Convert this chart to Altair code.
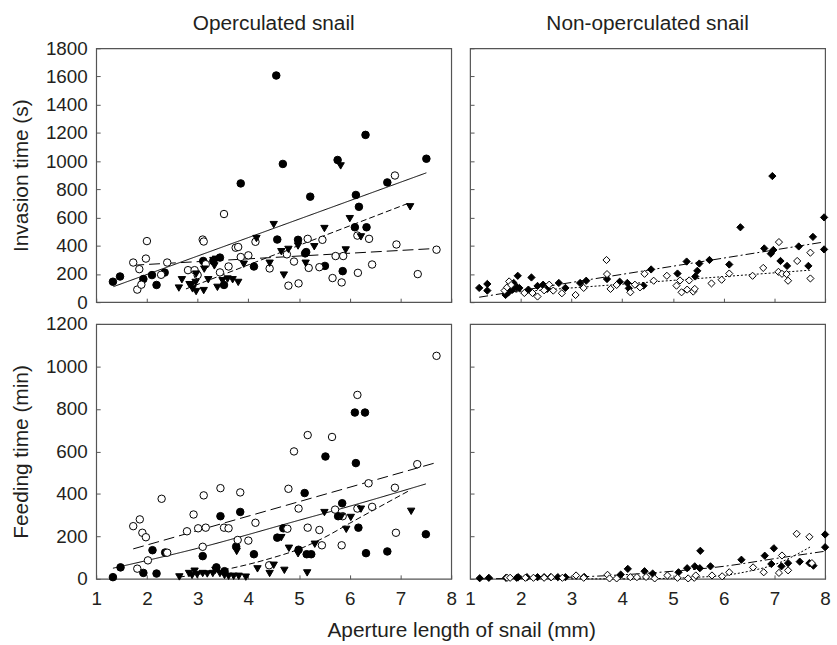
import altair as alt
import pandas as pd

FONT = "Liberation Sans"
TXT = "#231f20"
FRAME = "#555555"

# ---------------- Invasion time, operculated snail ----------------
inv_op_fc_x = [1.33, 1.47, 1.93, 2.10, 2.19, 2.35, 3.11, 3.31, 3.44, 3.52, 3.85, 4.11, 4.55, 4.57,
               4.68, 4.98, 5.12, 5.14, 5.22, 5.51, 5.76, 5.86, 6.10, 6.12, 6.18, 6.31, 6.33, 6.74, 7.51]
inv_op_fc_y = [145, 182, 164, 192, 122, 210, 292, 292, 316, 122, 842, 253, 1607, 444,
               980, 442, 346, 355, 748, 257, 1008, 220, 531, 760, 676, 1186, 531, 849, 1017]

inv_op_oc_x = [1.73, 1.81, 1.85, 1.89, 1.98, 2.00, 2.28, 2.40, 2.81, 2.94, 3.00, 3.10, 3.12, 3.16,
               3.44, 3.52, 3.61, 3.75, 3.80, 3.85, 4.00, 4.14, 4.42, 4.76, 4.79, 4.90, 4.99, 5.17,
               5.19, 5.40, 5.46, 5.66, 5.72, 5.84, 5.87, 6.15, 6.16, 6.38, 6.44, 6.89, 6.92, 7.34, 7.71]
inv_op_oc_y = [281, 89, 234, 124, 309, 433, 194, 281, 227, 227, 192, 444, 430, 269,
               211, 625, 253, 386, 391, 320, 332, 428, 239, 339, 117, 288, 133, 449,
               243, 248, 442, 171, 327, 140, 327, 472, 208, 449, 267, 898, 409, 199, 372]

inv_op_tr_x = [2.63, 2.69, 2.84, 2.87, 2.90, 2.96, 2.97, 2.97, 3.12, 3.13, 3.21, 3.31, 3.33, 3.36,
               3.39, 3.49, 3.59, 3.69, 3.80, 3.91, 4.16, 4.42, 4.50, 4.65, 4.70, 4.79, 4.98, 5.13,
               5.30, 5.50, 5.82, 5.92, 6.00, 6.22, 7.19]
inv_op_tr_y = [100, 159, 124, 117, 94, 140, 75, 199, 82, 234, 159, 295, 257, 304,
               105, 152, 164, 159, 140, 269, 451, 276, 550, 358, 192, 374, 398, 276,
               393, 522, 966, 370, 592, 463, 676]

# fitted lines
inv_op_fit_fc_x = [1.34, 7.51]
inv_op_fit_fc_y = [110, 917]
inv_op_fit_tr_x = [2.77, 7.19]
inv_op_fit_tr_y = [94, 706]
inv_op_fit_oc_x = [1.73, 7.71]
inv_op_fit_oc_y = [262, 381]

# ---------------- Invasion time, non-operculated snail ----------------
inv_no_fd_x = [1.18, 1.34, 1.34, 1.70, 1.76, 1.83, 1.86, 1.92, 1.94, 1.97, 2.15, 2.21, 2.33, 2.44,
               2.52, 2.75, 2.88, 3.17, 3.29, 3.70, 3.95, 4.10, 4.13, 4.42, 4.57, 5.09, 5.27, 5.44,
               5.48, 5.52, 5.72, 6.11, 6.33, 6.80, 6.93, 6.98, 6.96, 7.12, 7.25, 7.48, 7.67, 7.76,
               7.98, 7.98]
inv_no_fd_y = [101, 129, 82, 51, 70, 87, 136, 105, 187, 101, 89, 175, 115, 124,
               94, 136, 101, 136, 152, 164, 145, 136, 98, 117, 232, 203, 288, 182,
               222, 274, 299, 267, 531, 381, 344, 370, 894, 292, 257, 395, 257, 463,
               601, 374]

inv_no_od_x = [1.68, 1.73, 1.77, 1.81, 2.07, 2.23, 2.33, 2.46, 2.56, 2.64, 2.81, 3.08, 3.24, 3.69,
               3.70, 3.77, 3.89, 4.16, 4.25, 4.35, 4.44, 4.62, 4.88, 5.07, 5.14, 5.17, 5.28, 5.32,
               5.40, 5.43, 5.76, 5.96, 6.11, 6.57, 6.78, 7.09, 7.08, 7.15, 7.24, 7.27, 7.45, 7.71, 7.71]
inv_no_od_y = [82, 105, 147, 122, 65, 65, 40, 84, 124, 82, 63, 51, 101, 299,
               199, 94, 122, 70, 124, 105, 201, 152, 187, 117, 154, 70, 89, 154,
               75, 94, 133, 159, 203, 187, 243, 426, 215, 201, 199, 152, 292, 351, 168]

inv_no_fit_fd_x = [1.18, 7.97]
inv_no_fit_fd_y = [35, 426]
inv_no_fit_od_x = [1.66, 7.71]
inv_no_fit_od_y = [65, 227]

# ---------------- Feeding time, operculated snail ----------------
fed_op_fc_x = [1.33, 1.48, 1.93, 2.11, 2.19, 2.36, 3.10, 3.37, 3.45, 3.53, 3.76, 3.84, 4.11, 4.57,
               4.69, 4.99, 5.11, 5.15, 5.24, 5.52, 5.77, 5.85, 6.10, 6.30, 6.12, 6.17, 6.32, 6.74, 7.50]
fed_op_fc_y = [8, 54, 28, 135, 25, 124, 107, 54, 295, 36, 152, 315, 116, 194,
               238, 137, 404, 116, 116, 576, 295, 356, 783, 783, 545, 241, 121, 129, 210]

fed_op_oc_x = [1.73, 1.86, 1.91, 1.98, 1.81, 2.02, 2.29, 2.40, 2.79, 2.92, 3.01, 3.10, 3.12, 3.16,
               3.45, 3.52, 3.61, 3.79, 3.84, 4.00, 4.14, 4.41, 4.77, 4.79, 4.90, 4.99, 5.17, 5.17,
               5.40, 5.45, 5.65, 5.71, 5.84, 5.86, 6.15, 6.15, 6.37, 6.44, 6.89, 6.91, 7.33, 7.71]
fed_op_oc_y = [248, 280, 217, 196, 48, 87, 377, 123, 224, 303, 238, 151, 393, 241,
               427, 241, 238, 183, 407, 180, 264, 64, 236, 424, 600, 331, 677, 241,
               230, 158, 668, 326, 158, 295, 866, 331, 450, 339, 429, 217, 540, 1050]

fed_op_tr_x = [2.64, 2.83, 2.89, 2.94, 2.99, 3.10, 3.19, 3.30, 3.35, 3.44, 3.53, 3.61, 3.71, 3.81,
               3.95, 3.77, 4.18, 4.42, 4.50, 4.71, 4.65, 4.80, 4.98, 5.16, 5.31, 5.50, 5.83, 5.93,
               6.02, 6.22, 7.21]
fed_op_tr_y = [9, 25, 16, 36, 20, 25, 23, 25, 40, 25, 16, 12, 12, 12,
               8, 129, 47, 25, 64, 40, 194, 144, 118, 28, 163, 312, 292, 233,
               289, 328, 318]

fed_op_fit_fc_x = [1.33, 3.0, 5.0, 6.0, 7.5]
fed_op_fit_fc_y = [50, 144, 276, 342, 447]
fed_op_fit_tr_x = [2.63, 3.67, 4.46, 5.0, 5.5, 6.0, 7.2]
fed_op_fit_tr_y = [8, 50, 98, 140, 195, 262, 419]
fed_op_fit_oc_x = [1.73, 7.67]
fed_op_fit_oc_y = [141, 545]

# ---------------- Feeding time, non-operculated snail ----------------
fed_no_fd_x = [1.19, 1.37, 1.71, 1.92, 1.95, 2.12, 2.33, 2.46, 2.59, 2.73, 2.88, 3.25, 3.97, 4.11,
               4.44, 4.60, 5.11, 5.28, 5.43, 5.53, 5.54, 5.74, 6.35, 6.81, 6.94, 6.99, 7.14, 7.27,
               7.50, 7.69, 7.77, 8.00, 8.00]
fed_no_fd_y = [3, 5, 5, 5, 8, 8, 8, 8, 8, 8, 8, 9, 20, 47,
               36, 25, 31, 50, 59, 50, 132, 59, 90, 109, 70, 144, 59, 74,
               81, 74, 62, 209, 149]

fed_no_od_x = [1.73, 1.79, 2.09, 2.25, 2.46, 2.60, 2.82, 3.09, 3.24, 3.71, 3.75, 3.89, 4.16, 4.29,
               4.47, 4.64, 4.89, 5.09, 5.30, 5.42, 5.45, 5.77, 5.97, 6.11, 6.58, 6.79, 7.09, 7.15,
               7.27, 7.44, 7.69, 7.74]
fed_no_od_y = [5, 5, 5, 5, 5, 8, 5, 16, 5, 19, 2, 2, 8, 8,
               9, 2, 16, 5, 2, 5, 16, 16, 12, 31, 54, 31, 28, 110,
               40, 212, 198, 74]

fed_no_fit_fd_x = [1.18, 3.0, 4.0, 5.0, 6.0, 7.0, 7.97]
fed_no_fit_fd_y = [0, 8, 19, 36, 59, 95, 129]
fed_no_fit_od_x = [3.0, 4.0, 5.0, 5.5, 6.0, 6.5, 7.0, 7.72]
fed_no_fit_od_y = [0, 0, 3, 8, 16, 36, 67, 152]

# ---------------- build tables ----------------
GROUPS = ["fc", "oc", "tr", "fd", "od"]
SHAPES = ["circle", "circle", "triangle-down", "diamond", "diamond"]
FILLS = ["black", "white", "black", "black", "white"]
SIZES = [58, 52, 64, 70, 64]
DASHES = [[1, 0], [11, 5], [6, 3], [9, 3, 2, 3], [2, 2]]


def pts(*series):
    frames = []
    for g, xs, ys in series:
        frames.append(pd.DataFrame({"x": xs, "y": ys, "g": g}))
    return pd.concat(frames, ignore_index=True)


def panel(points, fits, ymax, height, show_xlab, show_ylab, ytitle, title, title_offset=5):
    yticks = list(range(0, ymax + 1, 200))

    def xaxis():
        return alt.Axis(
            values=list(range(1, 9)), labels=show_xlab, domain=False, grid=False,
            tickSize=4, offset=-4, tickColor=FRAME, labelPadding=11, labelFontSize=19,
            labelFont=FONT, labelColor=TXT, labelFlush=False, labelOverlap=False, format="d",
            title=("Aperture length of snail (mm)" if show_xlab and show_ylab else None),
            titleFontSize=21, titleFont=FONT, titleFontWeight="normal", titleColor=TXT,
            titlePadding=11, titleX=368, titleAlign="center",
        )

    def yaxis():
        return alt.Axis(
            values=yticks, labels=show_ylab, domain=False, grid=False,
            tickSize=4, offset=-4, tickColor=FRAME, labelPadding=9, labelFontSize=19,
            labelFont=FONT, labelColor=TXT, labelFlush=False, labelOverlap=False, format="d",
            title=(ytitle if show_ylab else None),
            titleFontSize=21, titleFont=FONT, titleFontWeight="normal", titleColor=TXT,
            titlePadding=14,
        )

    xs = alt.Scale(domain=[1, 8], nice=False, zero=False)
    ys = alt.Scale(domain=[0, ymax], nice=False, zero=False)
    lines = alt.Chart(fits).mark_line(color="black", strokeWidth=1, interpolate="monotone").encode(
        x=alt.X("x:Q", scale=xs, axis=xaxis()),
        y=alt.Y("y:Q", scale=ys, axis=yaxis()),
        strokeDash=alt.StrokeDash("g:N", scale=alt.Scale(domain=GROUPS, range=DASHES), legend=None),
        detail="g:N",
    )
    dots = alt.Chart(points).mark_point(filled=False, stroke="black", strokeWidth=1, opacity=1).encode(
        x=alt.X("x:Q", scale=xs, axis=xaxis()),
        y=alt.Y("y:Q", scale=ys, axis=yaxis()),
        shape=alt.Shape("g:N", scale=alt.Scale(domain=GROUPS, range=SHAPES), legend=None),
        fill=alt.Fill("g:N", scale=alt.Scale(domain=GROUPS, range=FILLS), legend=None),
        size=alt.Size("g:N", scale=alt.Scale(domain=GROUPS, range=SIZES), legend=None),
    )
    ch = alt.layer(lines, dots).properties(width=358, height=height)
    if title:
        ch = ch.properties(title=alt.TitleParams(title, fontSize=21, font=FONT, fontWeight="normal",
                                                 color=TXT, offset=title_offset, frame="group"))
    return ch


tl = panel(
    pts(("fc", inv_op_fc_x, inv_op_fc_y), ("oc", inv_op_oc_x, inv_op_oc_y), ("tr", inv_op_tr_x, inv_op_tr_y)),
    pts(("fc", inv_op_fit_fc_x, inv_op_fit_fc_y), ("tr", inv_op_fit_tr_x, inv_op_fit_tr_y),
        ("oc", inv_op_fit_oc_x, inv_op_fit_oc_y)),
    1800, 256, False, True, "Invasion time (s)", "Operculated snail", 5)
tr = panel(
    pts(("fd", inv_no_fd_x, inv_no_fd_y), ("od", inv_no_od_x, inv_no_od_y)),
    pts(("fd", inv_no_fit_fd_x, inv_no_fit_fd_y), ("od", inv_no_fit_od_x, inv_no_fit_od_y)),
    1800, 256, False, False, "", "Non-operculated snail", 14)
bl = panel(
    pts(("fc", fed_op_fc_x, fed_op_fc_y), ("oc", fed_op_oc_x, fed_op_oc_y), ("tr", fed_op_tr_x, fed_op_tr_y)),
    pts(("fc", fed_op_fit_fc_x, fed_op_fit_fc_y), ("tr", fed_op_fit_tr_x, fed_op_fit_tr_y),
        ("oc", fed_op_fit_oc_x, fed_op_fit_oc_y)),
    1200, 257, True, True, "Feeding time (min)", None)
br = panel(
    pts(("fd", fed_no_fd_x, fed_no_fd_y), ("od", fed_no_od_x, fed_no_od_y)),
    pts(("fd", fed_no_fit_fd_x, fed_no_fit_fd_y), ("od", fed_no_fit_od_x, fed_no_fit_od_y)),
    1200, 257, True, False, "", None)

chart = alt.concat(
    tl, tr, bl, br, columns=2, spacing={"row": 22, "column": 19}, bounds="flush"
).resolve_scale(
    x="independent", y="independent"
).properties(
    padding={"left": 10, "top": 9, "right": 5, "bottom": 0},
    background="white",
).configure_view(
    stroke=FRAME, strokeWidth=1.2, fill="white"
).configure_axis(
    labelFont=FONT, titleFont=FONT
)

chart.save("out.html", embed_options={"renderer": "svg", "actions": False})
